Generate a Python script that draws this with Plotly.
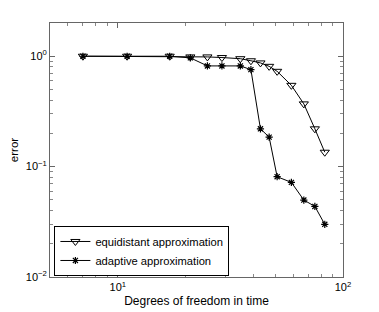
import numpy as np
import plotly.graph_objects as go

dof = [7, 11, 17, 21, 25, 29, 35, 39, 43, 47, 51, 59, 67, 75, 83]
err_equi = [1.0, 1.0, 1.0, 0.986, 0.986, 0.973, 0.95, 0.91, 0.87, 0.81, 0.73, 0.545, 0.37, 0.22, 0.135]
err_adap = [1.0, 1.0, 1.0, 0.966, 0.817, 0.817, 0.817, 0.756, 0.22, 0.185, 0.081, 0.072, 0.0498, 0.0436, 0.030]

x_tickvals = [10, 100]
x_ticktext = ["10<sup>1</sup>", "10<sup>2</sup>"]
y_tickvals = [0.01, 0.1, 1]
y_ticktext = ["10<sup>\u22122</sup>", "10<sup>\u22121</sup>", "10<sup>0</sup>"]

fig = go.Figure()
fig.add_trace(go.Scatter(
    x=dof, y=err_equi, mode="lines+markers", name="equidistant approximation",
    line=dict(color="black", width=1),
    marker=dict(symbol="triangle-down-open", size=8, color="black", line=dict(width=1, color="black")),
))
fig.add_trace(go.Scatter(
    x=dof, y=err_adap, mode="lines+markers", name="adaptive approximation",
    line=dict(color="black", width=1),
    marker=dict(symbol="asterisk-open", size=6, color="black", line=dict(width=1.2, color="black")),
))

axis_common = dict(
    type="log", showgrid=False, zeroline=False, automargin=False,
    showline=True, linecolor="#666666", linewidth=1, mirror="ticks",
    ticks="inside", ticklen=5, tickcolor="#666666",
    minor=dict(ticks="inside", ticklen=3, tickcolor="#888888", dtick="D1", showgrid=False),
    tickfont=dict(size=11, color="black"),
)

fig.update_xaxes(
    **axis_common,
    range=[np.log10(5), 2],
    tickmode="array", tickvals=x_tickvals, ticktext=x_ticktext,
    title=dict(text="Degrees of freedom in time", font=dict(size=12, color="black"), standoff=4),
)
fig.update_yaxes(
    **axis_common,
    range=[-2, np.log10(2)],
    tickmode="array", tickvals=y_tickvals, ticktext=y_ticktext,
    title=dict(text="error", font=dict(size=11.5, color="black"), standoff=15),
)

fig.update_layout(
    width=371, height=304,
    margin=dict(l=42, r=36, t=15, b=35),
    paper_bgcolor="white", plot_bgcolor="white",
    font=dict(family="Liberation Sans, Arial, sans-serif", size=11, color="black"),
    legend=dict(
        x=0.015, y=0.004, xanchor="left", yanchor="bottom",
        bgcolor="white", bordercolor="black", borderwidth=1,
        font=dict(size=11.2, color="black"),
        tracegroupgap=0, itemwidth=30,
    ),
    showlegend=True,
)

fig.write_html("out.html")
